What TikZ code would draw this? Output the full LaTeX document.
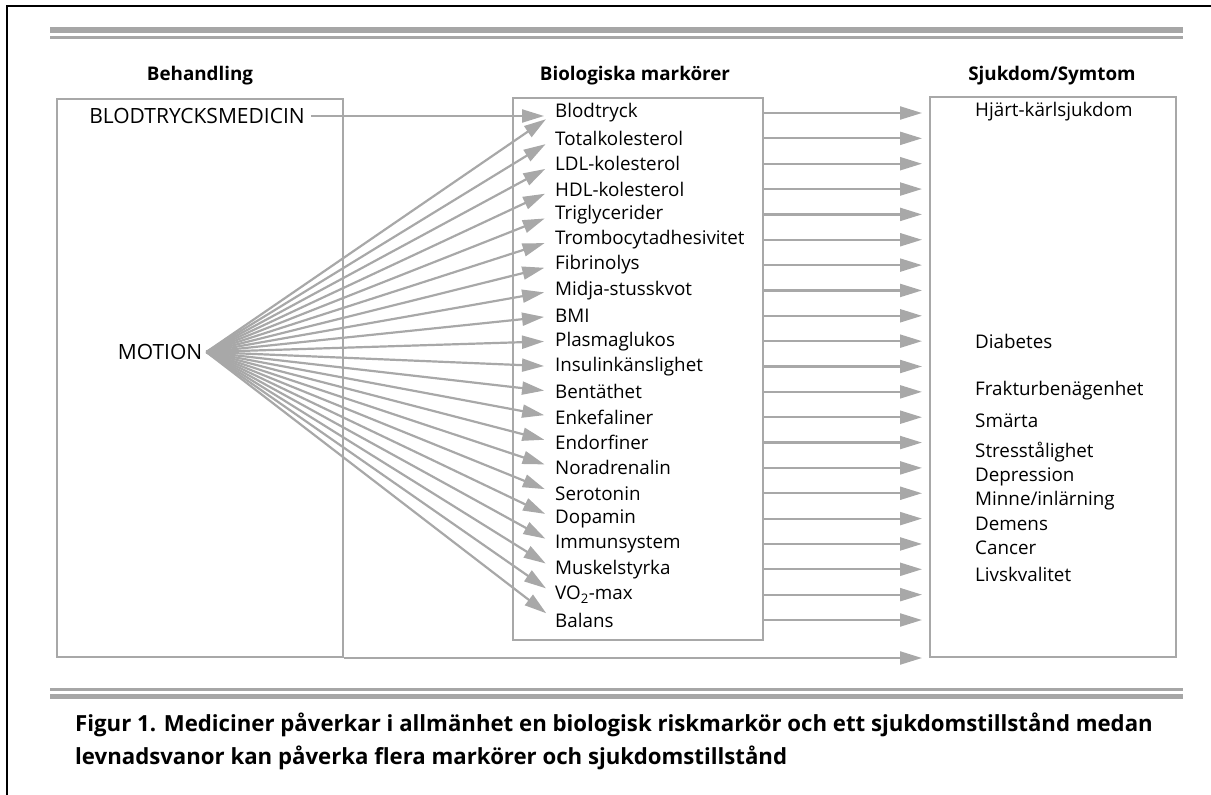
\documentclass[tikz,border=0pt]{standalone}
\usepackage{fontspec}
\setmainfont{Open Sans}
\usetikzlibrary{arrows.meta}
\definecolor{rulegray}{HTML}{A6A6A6}
\definecolor{linegray}{HTML}{A8A8A8}
\begin{document}
\begin{tikzpicture}[x=1pt,y=-1pt,
  panel/.style={draw=linegray,line width=2pt},
  label/.style={font=\fontsize{18.8}{20}\selectfont,inner sep=0pt,anchor=west},
  caps/.style={font=\fontsize{21}{22}\selectfont,inner sep=0pt},
  head/.style={font=\bfseries\fontsize{18.8}{20}\selectfont,inner sep=0pt},
  link/.style={draw=linegray,line width=2.2pt,-{Triangle[length=22pt,width=13pt]},color=linegray}]
\useasboundingbox (0,0) rectangle (1211,795);
% page frame (top and left)
\draw[line width=2pt] (7,796) -- (7,6) -- (1212,6);
% double rules
\fill[rulegray] (50,27) rectangle (1183,32.5);
\fill[rulegray] (50,35.5) rectangle (1183,38.5);
\fill[rulegray] (50,687.5) rectangle (1183,690.5);
\fill[rulegray] (50,693.5) rectangle (1183,699);
% column headings
\node[head] at (200,76) {Behandling};
\node[head] at (635,76) {Biologiska markörer};
\node[head] at (1052,76) {Sjukdom/Symtom};
% panels
\node[panel,inner sep=0pt,minimum width=286pt,minimum height=558pt] (treat) at (200,378) {};
\node[panel,inner sep=0pt,minimum width=250pt,minimum height=542pt] (markers) at (638,369) {};
\node[panel,inner sep=0pt,minimum width=246pt,minimum height=560pt] (disease) at (1053,377) {};
% treatments
\node[caps] (med) at (197,116) {BLODTRYCKSMEDICIN};
\node[caps] (motion) at (160,352) {MOTION};
% markers
\foreach \t [count=\i] in {Blodtryck,Totalkolesterol,LDL-kolesterol,HDL-kolesterol,Triglycerider,Trombocytadhesivitet,Fibrinolys,Midja-stusskvot,BMI,Plasmaglukos,Insulinkänslighet,Bentäthet,Enkefaliner,Endorfiner,Noradrenalin,Serotonin,Dopamin,Immunsystem,Muskelstyrka,VO\textsubscript{2}-max,Balans}
  \node[label] (m\i) at (555,{113+(\i-1)*25.35}) {\t};
% diseases
\foreach \t/\y [count=\i] in {Hjärt-kärlsjukdom/112,Diabetes/341,Frakturbenägenhet/391,Smärta/421,Stresstålighet/452,Depression/477,Minne\slash inlärning/501,Demens/524,Cancer/548,Livskvalitet/574}
  \node[label] (d\i) at (975,\y) {\t};
% connectors
\draw[link] ([xshift=6pt]med.east) -- ([xshift=-11pt]med.east -| m1.west);
\foreach \i in {1,...,21}{
  \draw[link,shorten >=11pt] ([xshift=4pt]motion.east) -- (m\i.west);
  \draw[link,shorten >=7pt] (markers.east |- m\i.west) -- (disease.west |- m\i.west);
}
\draw[link,shorten >=7pt] (treat.south east) -- (disease.west |- treat.south east);
% caption
\node[font=\bfseries\fontsize{22.2}{33}\selectfont,inner sep=0pt,anchor=north west,align=left] (cap) at (75,712.5)
  {Figur 1. Mediciner påverkar i allmänhet en biologisk riskmarkör och ett sjukdomstillstånd medan\\levnadsvanor kan påverka flera markörer och sjukdomstillstånd};
\end{tikzpicture}
\end{document}
